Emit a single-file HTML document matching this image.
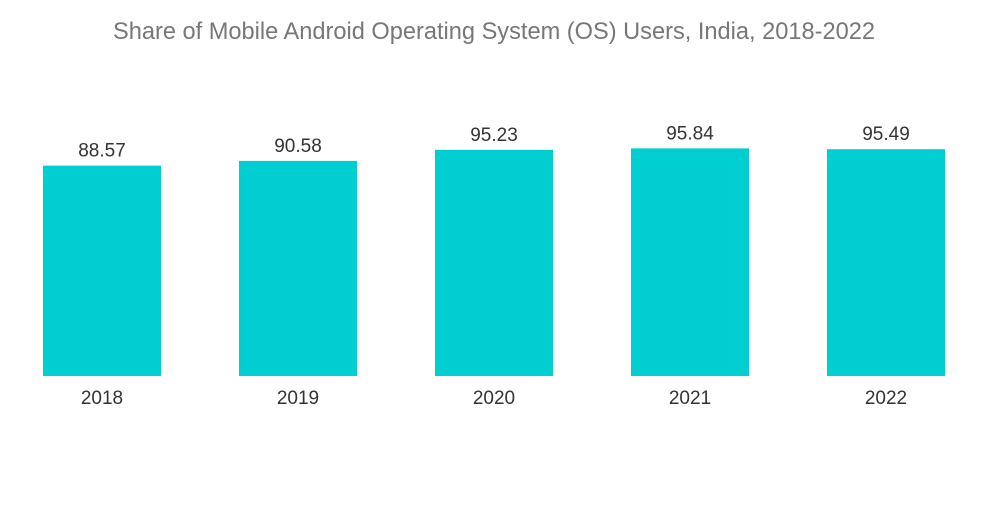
<!DOCTYPE html>
<html><head><meta charset="utf-8"><style>
body{margin:0;background:#fff;width:1000px;height:504px;overflow:hidden;font-family:"Liberation Sans",sans-serif}
</style></head><body>
<svg width="1000" height="504">
<text x="494" y="39" text-anchor="middle" font-size="23.6" fill="#777">Share of Mobile Android Operating System (OS) Users, India, 2018-2022</text>
<g id="bars"></g>
</svg>
<script>
const categories=["2018","2019","2020","2021","2022"];
const values=[88.57,90.58,95.23,95.84,95.49];
const valueLabels=["88.57","90.58","95.23","95.84","95.49"];
const base=376, scale=2.375, x0=43, step=196, bw=118;
const y=v=>base-v*scale;
const g=document.getElementById('bars');
const ns="http://www.w3.org/2000/svg";
categories.forEach((c,i)=>{
  const x=x0+i*step;
  const r=document.createElementNS(ns,'rect');
  r.setAttribute('x',x);r.setAttribute('y',y(values[i]));r.setAttribute('width',bw);r.setAttribute('height',base-y(values[i]));r.setAttribute('fill','#00ced1');
  
  
  g.appendChild(r);
  const t=document.createElementNS(ns,'text');
  t.setAttribute('x',x+bw/2);t.setAttribute('y',y(values[i])-9);t.setAttribute('text-anchor','middle');t.setAttribute('font-size','19');t.setAttribute('fill','#333');
  t.textContent=valueLabels[i];
  
  
  g.appendChild(t);
  const l=document.createElementNS(ns,'text');
  l.setAttribute('x',x+bw/2);l.setAttribute('y',404);l.setAttribute('text-anchor','middle');l.setAttribute('font-size','19');l.setAttribute('fill','#333');
  l.textContent=c;
  
  
  g.appendChild(l);
});
</script>
</body></html>
